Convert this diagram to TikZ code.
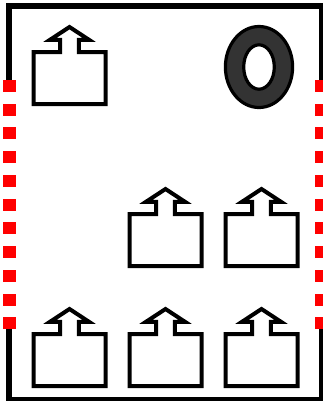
\documentclass[tikz,border=0pt]{standalone}
\tikzset{
  x=0.75pt,y=-0.75pt,
  wall/.style={line width=4.1pt,draw=black,line join=miter},
  gap/.style={fill=red,draw=none},
  icon/.style={line width=3pt,draw=black,fill=white,line join=miter,miter limit=10},
  torus/.style={line width=2.4pt,draw=black,fill=black!80,even odd rule},
  pics/exiticon/.style={code={
    \draw[icon] (33.7,104) -- (33.7,52) -- (60,52) -- (60,39.8) -- (50,39.8) -- (69.5,27) -- (89,39.8) -- (78.8,39.8) -- (78.8,52) -- (105.7,52) -- (105.7,104) -- cycle;
  }}
}
\begin{document}
\begin{tikzpicture}
\useasboundingbox (0,0) rectangle (323,401);
\clip (0,0) rectangle (323,401);
\fill[white] (0,0) rectangle (323,401);
\draw[wall] (9,80) -- (9,6) -- (321.5,6) -- (321.5,80);
\draw[wall] (9,328) -- (9,399.5) -- (321.5,399.5) -- (321.5,328);
\foreach \i in {0,...,10} {
  \fill[gap] (3,{80+23.73*\i}) rectangle (16,{92+23.73*\i});
  \fill[gap] (315,{80+23.73*\i}) rectangle (328,{92+23.73*\i});
}
\pic at (0,0) {exiticon};
\pic at (96,162) {exiticon};
\pic at (192,162) {exiticon};
\pic at (0,282) {exiticon};
\pic at (96,282) {exiticon};
\pic at (192,282) {exiticon};
\path[torus] (259,67) ellipse [x radius=33.6,y radius=40.5] (259,67) ellipse [x radius=15.3,y radius=22.2];
\end{tikzpicture}
\end{document}
